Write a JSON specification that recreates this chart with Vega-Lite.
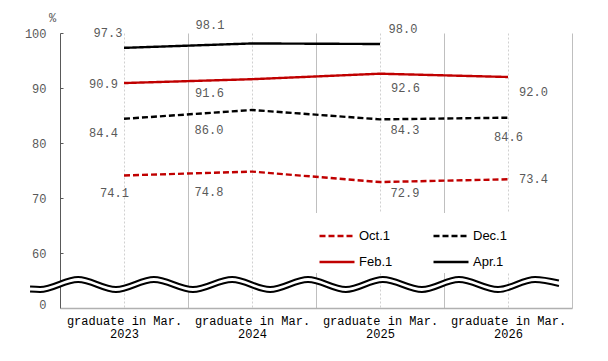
{
  "$schema": "https://vega.github.io/schema/vega-lite/v6.json",
  "autosize": {"type": "none"},
  "width": 512,
  "height": 275,
  "padding": {"left": 60, "top": 33, "right": 36, "bottom": 53},
  "background": "white",
  "config": {"view": {"stroke": null}},
  "datasets": {
    "rates": [
      {"year": "2023", "series": "Oct.1", "value": 74.1},
      {"year": "2024", "series": "Oct.1", "value": 74.8},
      {"year": "2025", "series": "Oct.1", "value": 72.9},
      {"year": "2026", "series": "Oct.1", "value": 73.4},
      {"year": "2023", "series": "Dec.1", "value": 84.4},
      {"year": "2024", "series": "Dec.1", "value": 86.0},
      {"year": "2025", "series": "Dec.1", "value": 84.3},
      {"year": "2026", "series": "Dec.1", "value": 84.6},
      {"year": "2023", "series": "Feb.1", "value": 90.9},
      {"year": "2024", "series": "Feb.1", "value": 91.6},
      {"year": "2025", "series": "Feb.1", "value": 92.6},
      {"year": "2026", "series": "Feb.1", "value": 92.0},
      {"year": "2023", "series": "Apr.1", "value": 97.3},
      {"year": "2024", "series": "Apr.1", "value": 98.1},
      {"year": "2025", "series": "Apr.1", "value": 98.0}
    ],
    "wave": [
      {"wx": -0.234, "top": 53.9, "bot": 53.0},
      {"wx": -0.156, "top": 53.82, "bot": 52.91},
      {"wx": 0.141, "top": 55.64, "bot": 54.73},
      {"wx": 0.4375, "top": 53.82, "bot": 52.91},
      {"wx": 0.734, "top": 55.64, "bot": 54.73},
      {"wx": 1.039, "top": 53.82, "bot": 52.91},
      {"wx": 1.344, "top": 55.64, "bot": 54.73},
      {"wx": 1.641, "top": 53.82, "bot": 52.91},
      {"wx": 1.9375, "top": 55.64, "bot": 54.73},
      {"wx": 2.234, "top": 53.82, "bot": 52.91},
      {"wx": 2.523, "top": 55.64, "bot": 54.73},
      {"wx": 2.828, "top": 53.82, "bot": 52.91},
      {"wx": 3.117, "top": 55.64, "bot": 54.73},
      {"wx": 3.422, "top": 53.82, "bot": 52.91},
      {"wx": 3.711, "top": 55.64, "bot": 54.73},
      {"wx": 3.898, "top": 55.0, "bot": 54.0}
    ]
  },
  "resolve": {"scale": {"x": "independent"}, "axis": {"x": "independent"}},
  "layer": [
    {
      "data": {"name": "rates"},
      "encoding": {
        "x": {
          "field": "year", "type": "ordinal",
          "scale": {"type": "point", "padding": 0.5},
          "axis": {
            "orient": "bottom", "title": null, "ticks": false, "grid": true,
            "gridColor": "#d0d0d0", "gridDash": [2, 2], "gridWidth": 1,
            "domainColor": "#b0b0b0", "domainWidth": 1.5,
            "labelExpr": "['graduate in Mar.', datum.value]",
            "labelFont": "Liberation Mono", "labelFontSize": 12, "labelColor": "#000000",
            "labelPadding": 7, "labelBaseline": "top", "labelLineHeight": 13,
            "labelAngle": 0, "labelOverlap": false, "labelBound": false
          }
        },
        "y": {
          "field": "value", "type": "quantitative",
          "scale": {"domain": [50, 100], "nice": false, "zero": false},
          "axis": {
            "values": [50.7, 60, 70, 80, 90, 100],
            "labelExpr": "datum.value < 55 ? '0' : datum.label",
            "grid": false, "domainColor": "#595959", "domainWidth": 1,
            "tickColor": {"condition": {"test": "datum.value < 55", "value": "transparent"}, "value": "#595959"},
            "tickSize": -3, "labelPadding": 17,
            "labelFont": "Liberation Mono", "labelFontSize": 12, "labelColor": "#595959",
            "title": "%", "titleAngle": 0, "titleX": -8, "titleY": -16,
            "titleAlign": "center", "titleBaseline": "middle",
            "titleFont": "Liberation Mono", "titleFontSize": 12, "titleFontWeight": "normal", "titleColor": "#595959"
          }
        }
      },
      "layer": [
        {
          "mark": {"type": "line", "strokeWidth": 2.4},
          "encoding": {
            "color": {
              "field": "series", "type": "nominal",
              "scale": {"domain": ["Oct.1", "Feb.1", "Dec.1", "Apr.1"], "range": ["#c00000", "#c00000", "#000000", "#000000"]},
              "legend": {
                "title": null, "orient": "none", "legendX": 254, "legendY": 180,
                "columns": 2, "columnPadding": 35, "rowPadding": -8,
                "symbolType": "stroke", "symbolSize": 1225, "symbolStrokeWidth": 2.5,
                "labelFont": "Liberation Sans", "labelFontSize": 13, "labelColor": "#000000", "labelOffset": 3,
                "fillColor": "white", "padding": 4
              }
            },
            "strokeDash": {
              "field": "series", "type": "nominal",
              "scale": {"domain": ["Oct.1", "Feb.1", "Dec.1", "Apr.1"], "range": [[6, 3], [1, 0], [6, 3], [1, 0]]},
              "legend": {
                "title": null, "orient": "none", "legendX": 254, "legendY": 180,
                "columns": 2, "columnPadding": 35, "rowPadding": -8,
                "symbolType": "stroke", "symbolSize": 1225, "symbolStrokeWidth": 2.5,
                "labelFont": "Liberation Sans", "labelFontSize": 13, "labelColor": "#000000", "labelOffset": 3,
                "fillColor": "white", "padding": 4
              }
            }
          }
        },
        {"transform": [{"filter": "datum.year=='2023' && datum.series=='Apr.1'"}], "mark": {"type": "text", "dx": -16, "dy": -15, "font": "Liberation Mono", "fontSize": 12, "color": "#595959"}, "encoding": {"text": {"field": "value", "format": ".1f"}}},
        {"transform": [{"filter": "datum.year=='2023' && datum.series=='Feb.1'"}], "mark": {"type": "text", "dx": -20.5, "dy": 1, "font": "Liberation Mono", "fontSize": 12, "color": "#595959"}, "encoding": {"text": {"field": "value", "format": ".1f"}}},
        {"transform": [{"filter": "datum.year=='2023' && datum.series=='Dec.1'"}], "mark": {"type": "text", "dx": -20.5, "dy": 14, "font": "Liberation Mono", "fontSize": 12, "color": "#595959"}, "encoding": {"text": {"field": "value", "format": ".1f"}}},
        {"transform": [{"filter": "datum.year=='2023' && datum.series=='Oct.1'"}], "mark": {"type": "text", "dx": -9.5, "dy": 17.5, "font": "Liberation Mono", "fontSize": 12, "color": "#595959"}, "encoding": {"text": {"field": "value", "format": ".1f"}}},
        {"transform": [{"filter": "datum.year=='2024' && datum.series=='Apr.1'"}], "mark": {"type": "text", "dx": -42, "dy": -18.5, "font": "Liberation Mono", "fontSize": 12, "color": "#595959"}, "encoding": {"text": {"field": "value", "format": ".1f"}}},
        {"transform": [{"filter": "datum.year=='2024' && datum.series=='Feb.1'"}], "mark": {"type": "text", "dx": -42.5, "dy": 14, "font": "Liberation Mono", "fontSize": 12, "color": "#595959"}, "encoding": {"text": {"field": "value", "format": ".1f"}}},
        {"transform": [{"filter": "datum.year=='2024' && (datum.series=='Dec.1' || datum.series=='Oct.1')"}], "mark": {"type": "text", "dx": -43, "dy": 20, "font": "Liberation Mono", "fontSize": 12, "color": "#595959"}, "encoding": {"text": {"field": "value", "format": ".1f"}}},
        {"transform": [{"filter": "datum.year=='2025' && datum.series=='Apr.1'"}], "mark": {"type": "text", "dx": 23, "dy": -15, "font": "Liberation Mono", "fontSize": 12, "color": "#595959"}, "encoding": {"text": {"field": "value", "format": ".1f"}}},
        {"transform": [{"filter": "datum.year=='2025' && datum.series=='Feb.1'"}], "mark": {"type": "text", "dx": 25.5, "dy": 14, "font": "Liberation Mono", "fontSize": 12, "color": "#595959"}, "encoding": {"text": {"field": "value", "format": ".1f"}}},
        {"transform": [{"filter": "datum.year=='2025' && (datum.series=='Dec.1' || datum.series=='Oct.1')"}], "mark": {"type": "text", "dx": 25, "dy": 10.5, "font": "Liberation Mono", "fontSize": 12, "color": "#595959"}, "encoding": {"text": {"field": "value", "format": ".1f"}}},
        {"transform": [{"filter": "datum.year=='2026' && datum.series=='Feb.1'"}], "mark": {"type": "text", "dx": 25.5, "dy": 15, "font": "Liberation Mono", "fontSize": 12, "color": "#595959"}, "encoding": {"text": {"field": "value", "format": ".1f"}}},
        {"transform": [{"filter": "datum.year=='2026' && datum.series=='Dec.1'"}], "mark": {"type": "text", "dx": 0.5, "dy": 19.5, "font": "Liberation Mono", "fontSize": 12, "color": "#595959"}, "encoding": {"text": {"field": "value", "format": ".1f"}}},
        {"transform": [{"filter": "datum.year=='2026' && datum.series=='Oct.1'"}], "mark": {"type": "text", "dx": 25.5, "dy": 0, "font": "Liberation Mono", "fontSize": 12, "color": "#595959"}, "encoding": {"text": {"field": "value", "format": ".1f"}}}
      ]
    },
    {
      "data": {"name": "wave"},
      "encoding": {
        "x": {
          "field": "wx", "type": "quantitative",
          "scale": {"domain": [0, 4], "nice": false, "zero": false},
          "axis": {
            "orient": "top", "values": [1, 2, 3, 4], "grid": true, "gridColor": "#bfbfbf", "gridWidth": 1,
            "labels": false, "ticks": false, "domain": false, "title": null
          }
        }
      },
      "layer": [
        {
          "mark": {"type": "area", "interpolate": "monotone", "color": "white", "opacity": 1},
          "encoding": {
            "y": {"field": "top", "type": "quantitative", "scale": {"domain": [50, 100], "nice": false, "zero": false}},
            "y2": {"field": "bot"}
          }
        },
        {
          "mark": {"type": "line", "interpolate": "monotone", "color": "#000000", "strokeWidth": 2},
          "encoding": {"y": {"field": "top", "type": "quantitative", "scale": {"domain": [50, 100], "nice": false, "zero": false}}}
        },
        {
          "mark": {"type": "line", "interpolate": "monotone", "color": "#000000", "strokeWidth": 2},
          "encoding": {"y": {"field": "bot", "type": "quantitative", "scale": {"domain": [50, 100], "nice": false, "zero": false}}}
        }
      ]
    }
  ]
}
